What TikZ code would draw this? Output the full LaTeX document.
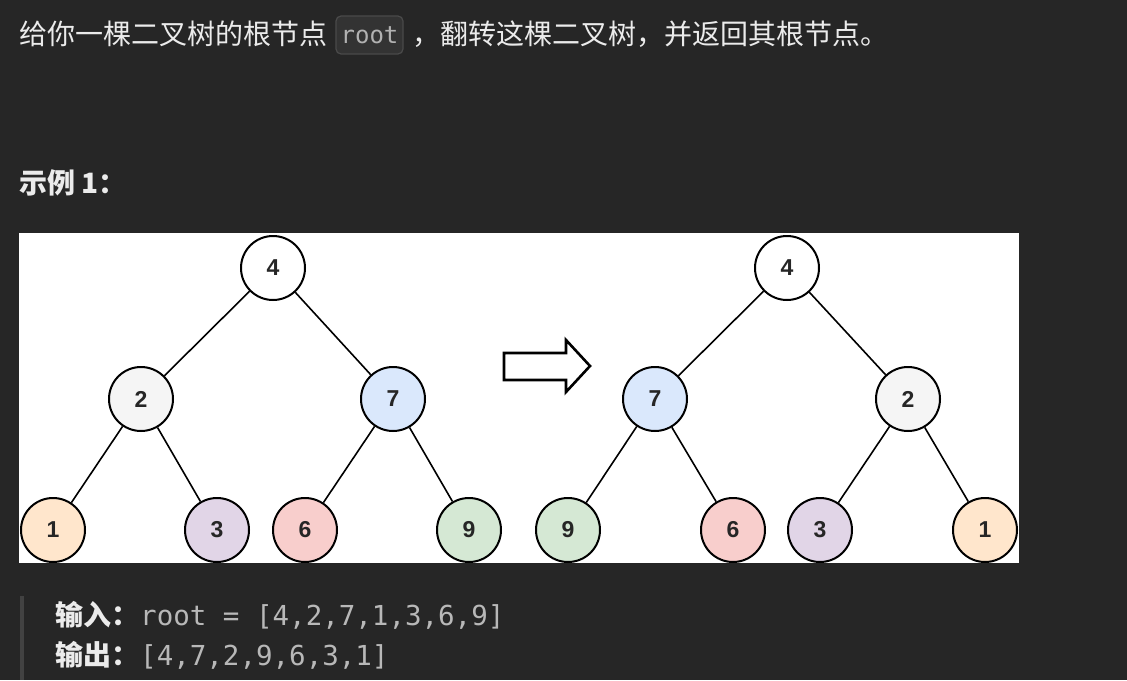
\documentclass[tikz,border=0pt]{standalone}
\usepackage{fontspec}
\setmainfont{Noto Sans CJK SC}
\setmonofont{DejaVu Sans Mono}
\newfontfamily\treefont{Liberation Sans}
\usetikzlibrary{positioning}

\definecolor{pagebg}{HTML}{262626}
\definecolor{bodyfg}{HTML}{EBEBEB}
\definecolor{codefg}{HTML}{B8B8B8}
\definecolor{codebg}{HTML}{333333}
\definecolor{codeframe}{HTML}{4A4A4A}
\definecolor{quotebar}{HTML}{424242}
\definecolor{graynode}{HTML}{F5F5F5}
\definecolor{bluenode}{HTML}{DAE8FC}
\definecolor{orangenode}{HTML}{FFE6CC}
\definecolor{purplenode}{HTML}{E1D5E7}
\definecolor{rednode}{HTML}{F8CECC}
\definecolor{greennode}{HTML}{D5E8D4}

\begin{document}
\begin{tikzpicture}[x=1pt,y=-1pt,
  bodytext/.style={inner sep=0pt,anchor=base west,text=bodyfg,font=\fontsize{28}{34}\selectfont},
  boldtext/.style={bodytext,font=\bfseries\fontsize{28}{34}\selectfont},
  monotext/.style={inner sep=0pt,anchor=base west,text=codefg,font=\ttfamily\fontsize{27.5}{33}\selectfont},
  codebox/.style={draw=codeframe,fill=codebg,line width=1.2pt,rounded corners=5pt,minimum width=67pt,minimum height=38pt,inner sep=0pt,text=codefg!110,font=\ttfamily\fontsize{24}{28}\selectfont},
  treenode/.style={circle,draw=black,line width=2pt,minimum size=64pt,inner sep=0pt,text=black!85,font=\treefont\bfseries\fontsize{23}{27}\selectfont},
  treeedge/.style={line width=1.6pt}]

\useasboundingbox (0,0) rectangle (1127,680);
\fill[pagebg] (0,0) rectangle (1127,680);

% Problem statement
\node[bodytext] (intro) at (19,44) {给你一棵二叉树的根节点};
\node[codebox] (rootcode) at (369.5,35) {root};
\node[bodytext] (introrest) at (412,44) {，翻转这棵二叉树，并返回其根节点。};
\node[boldtext] (example) at (19,193) {示例 1：};

% Figure panel
\fill[white] (19,233) rectangle (1019,563);

% Input tree
\node[treenode,fill=white] (l4) at (273,268) {4};
\node[treenode,fill=graynode] (l2) at (141,399) {2};
\node[treenode,fill=bluenode] (l7) at (393,399) {7};
\node[treenode,fill=orangenode] (l1) at (53,530) {1};
\node[treenode,fill=purplenode] (l3) at (217,530) {3};
\node[treenode,fill=rednode] (l6) at (305,530) {6};
\node[treenode,fill=greennode] (l9) at (469,530) {9};

\draw[treeedge] (l4) -- (l2);
\draw[treeedge] (l4) -- (l7);
\draw[treeedge] (l2) -- (l1);
\draw[treeedge] (l2) -- (l3);
\draw[treeedge] (l7) -- (l6);
\draw[treeedge] (l7) -- (l9);

% Block arrow
\draw[fill=white,line width=2.6pt,miter limit=10]
  (504,353) -- (566,353) -- (566,340) -- (590,366) -- (566,392) -- (566,380) -- (504,380) -- cycle;

% Inverted tree
\node[treenode,fill=white] (r4) at (787,268) {4};
\node[treenode,fill=bluenode] (r7) at (655,399) {7};
\node[treenode,fill=graynode] (r2) at (908,399) {2};
\node[treenode,fill=greennode] (r9) at (568,530) {9};
\node[treenode,fill=rednode] (r6) at (733,530) {6};
\node[treenode,fill=purplenode] (r3) at (820,530) {3};
\node[treenode,fill=orangenode] (r1) at (985,530) {1};

\draw[treeedge] (r4) -- (r7);
\draw[treeedge] (r4) -- (r2);
\draw[treeedge] (r7) -- (r9);
\draw[treeedge] (r7) -- (r6);
\draw[treeedge] (r2) -- (r3);
\draw[treeedge] (r2) -- (r1);

% Input / output block
\fill[quotebar] (20,596) rectangle (24,680);
\node[boldtext] (inlabel) at (55,625) {输入：};
\node[monotext] (invalue) at (140,625) {root = [4,2,7,1,3,6,9]};
\node[boldtext] (outlabel) at (55,665) {输出：};
\node[monotext] (outvalue) at (140,665) {[4,7,2,9,6,3,1]};
\end{tikzpicture}
\end{document}
